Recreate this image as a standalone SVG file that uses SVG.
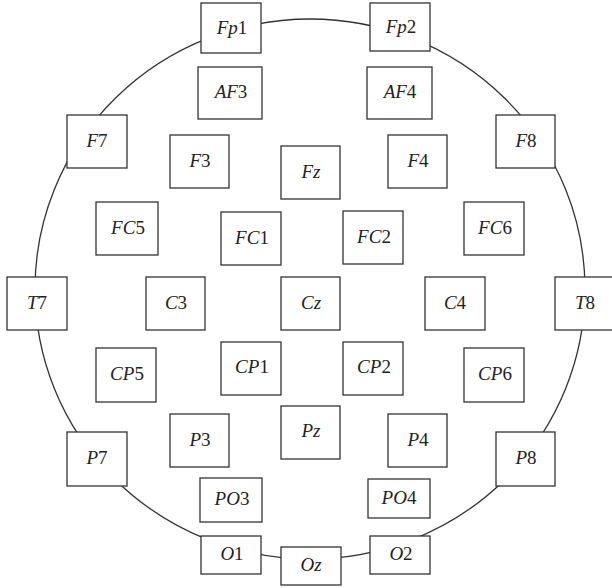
<svg xmlns="http://www.w3.org/2000/svg" width="612" height="588" viewBox="0 0 612 588">
<style>
.b{fill:#fff;stroke:#333;stroke-width:1.3}
.h{fill:none;stroke:#333;stroke-width:1.3}
text{font-family:"Liberation Serif","DejaVu Serif",serif;font-size:19px;font-style:italic;fill:#222;text-anchor:middle}
.n{font-style:normal}
</style>
<rect width="612" height="588" fill="#fff"/>
<g id="connectors">
<ellipse class="h" cx="310" cy="289" rx="275" ry="270"/>
</g>
<g id="Fp1"><rect class="b" x="201" y="3" width="60" height="50"/><text x="232" y="34">Fp<tspan class="n">1</tspan></text></g>
<g id="Fp2"><rect class="b" x="370" y="3" width="60" height="48"/><text x="401" y="33">Fp<tspan class="n">2</tspan></text></g>
<g id="AF3"><rect class="b" x="198" y="67" width="64" height="52"/><text x="231" y="98">AF<tspan class="n">3</tspan></text></g>
<g id="AF4"><rect class="b" x="367" y="67" width="65" height="52"/><text x="400" y="98">AF<tspan class="n">4</tspan></text></g>
<g id="F7"><rect class="b" x="67" y="115" width="60" height="53"/><text x="97" y="147">F<tspan class="n">7</tspan></text></g>
<g id="F8"><rect class="b" x="496" y="115" width="59" height="53"/><text x="526" y="147">F<tspan class="n">8</tspan></text></g>
<g id="F3"><rect class="b" x="170" y="135" width="59" height="53"/><text x="200" y="167">F<tspan class="n">3</tspan></text></g>
<g id="Fz"><rect class="b" x="281" y="146" width="59" height="53"/><text x="311" y="178">Fz</text></g>
<g id="F4"><rect class="b" x="388" y="135" width="59" height="53"/><text x="418" y="167">F<tspan class="n">4</tspan></text></g>
<g id="FC5"><rect class="b" x="96" y="202" width="62" height="53"/><text x="128" y="234">FC<tspan class="n">5</tspan></text></g>
<g id="FC1"><rect class="b" x="221" y="212" width="60" height="53"/><text x="252" y="244">FC<tspan class="n">1</tspan></text></g>
<g id="FC2"><rect class="b" x="343" y="211" width="60" height="53"/><text x="374" y="243">FC<tspan class="n">2</tspan></text></g>
<g id="FC6"><rect class="b" x="464" y="202" width="60" height="53"/><text x="495" y="234">FC<tspan class="n">6</tspan></text></g>
<g id="T7"><rect class="b" x="7" y="277" width="60" height="53"/><text x="37" y="309">T<tspan class="n">7</tspan></text></g>
<g id="C3"><rect class="b" x="146" y="277" width="59" height="53"/><text x="176" y="309">C<tspan class="n">3</tspan></text></g>
<g id="Cz"><rect class="b" x="281" y="277" width="59" height="53"/><text x="311" y="309">Cz</text></g>
<g id="C4"><rect class="b" x="425" y="277" width="60" height="53"/><text x="455" y="309">C<tspan class="n">4</tspan></text></g>
<g id="T8"><rect class="b" x="555" y="277" width="60" height="53"/><text x="585" y="309">T<tspan class="n">8</tspan></text></g>
<g id="CP5"><rect class="b" x="96" y="348" width="60" height="54"/><text x="127" y="380">CP<tspan class="n">5</tspan></text></g>
<g id="CP1"><rect class="b" x="221" y="342" width="60" height="53"/><text x="252" y="373">CP<tspan class="n">1</tspan></text></g>
<g id="CP2"><rect class="b" x="343" y="342" width="60" height="53"/><text x="374" y="373">CP<tspan class="n">2</tspan></text></g>
<g id="CP6"><rect class="b" x="464" y="348" width="60" height="54"/><text x="495" y="380">CP<tspan class="n">6</tspan></text></g>
<g id="P7"><rect class="b" x="67" y="432" width="60" height="54"/><text x="97" y="464">P<tspan class="n">7</tspan></text></g>
<g id="P3"><rect class="b" x="170" y="414" width="59" height="53"/><text x="200" y="446">P<tspan class="n">3</tspan></text></g>
<g id="Pz"><rect class="b" x="281" y="406" width="59" height="53"/><text x="311" y="437">Pz</text></g>
<g id="P4"><rect class="b" x="388" y="414" width="59" height="53"/><text x="418" y="446">P<tspan class="n">4</tspan></text></g>
<g id="P8"><rect class="b" x="496" y="432" width="59" height="54"/><text x="526" y="464">P<tspan class="n">8</tspan></text></g>
<g id="PO3"><rect class="b" x="200" y="478" width="62" height="44"/><text x="232" y="505">PO<tspan class="n">3</tspan></text></g>
<g id="PO4"><rect class="b" x="368" y="479" width="62" height="39"/><text x="399" y="504">PO<tspan class="n">4</tspan></text></g>
<g id="O1"><rect class="b" x="201" y="536" width="60" height="38"/><text x="232" y="560">O<tspan class="n">1</tspan></text></g>
<g id="Oz"><rect class="b" x="281" y="547" width="60" height="38"/><text x="311" y="571">Oz</text></g>
<g id="O2"><rect class="b" x="370" y="536" width="60" height="38"/><text x="401" y="560">O<tspan class="n">2</tspan></text></g>
</svg>
